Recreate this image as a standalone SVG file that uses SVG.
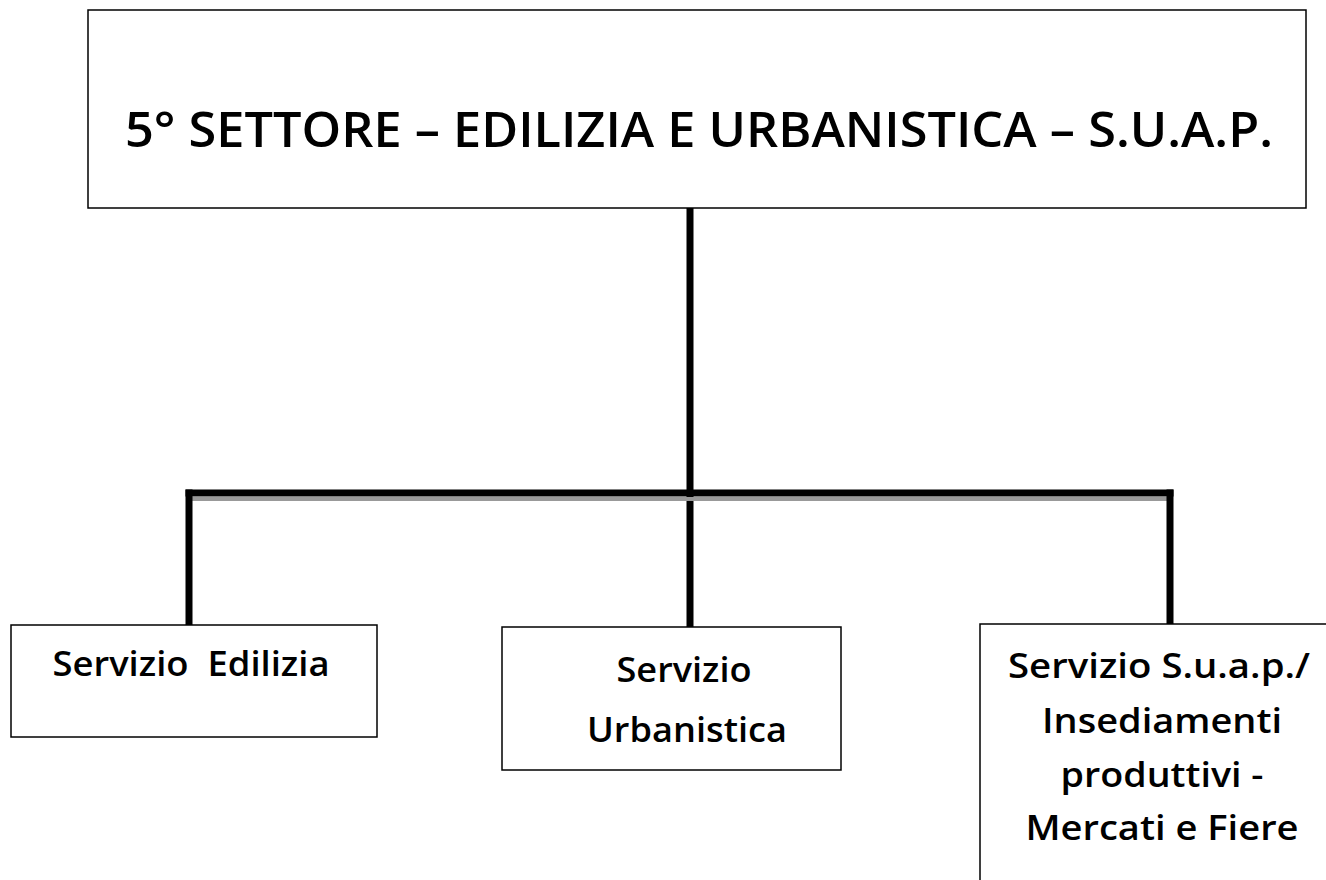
<svg xmlns="http://www.w3.org/2000/svg" width="1326" height="880" viewBox="0 0 1326 880">
<style>
.box{fill:#fff;stroke:#000;stroke-width:1.5}
.lbl{font-family:"Open Sans","Liberation Sans",sans-serif;font-weight:600;fill:#000;text-anchor:middle}
.sub{font-size:35px}
.conn{stroke:#000;stroke-width:7;fill:none;stroke-linecap:square}
</style>
<rect width="1326" height="880" fill="#fff"/>
<g id="connectors">
<line class="conn" x1="690" y1="209" x2="690" y2="624"/>
<line x1="190" y1="499" x2="1170" y2="499" stroke="#999" stroke-width="4"/>
<line class="conn" x1="189" y1="493" x2="1170" y2="493"/>
<line class="conn" x1="189" y1="493" x2="189" y2="622"/>
<line class="conn" x1="1170" y1="493" x2="1170" y2="622"/>
</g>
<g id="root">
<rect class="box" x="88" y="10" width="1218" height="198"/>
<text class="lbl" x="699" y="147" font-size="48" textLength="1148" lengthAdjust="spacingAndGlyphs">5° SETTORE – EDILIZIA E URBANISTICA – S.U.A.P.</text>
</g>
<g id="edilizia">
<rect class="box" x="11" y="625" width="366" height="112"/>
<text class="lbl sub" x="191" y="676" textLength="277" lengthAdjust="spacingAndGlyphs" xml:space="preserve">Servizio  Edilizia</text>
</g>
<g id="urbanistica">
<rect class="box" x="502" y="627" width="339" height="143"/>
<text class="lbl sub" x="684" y="682" textLength="135" lengthAdjust="spacingAndGlyphs">Servizio</text>
<text class="lbl sub" x="687" y="742" textLength="200" lengthAdjust="spacingAndGlyphs">Urbanistica</text>
</g>
<g id="suap">
<rect class="box" x="980" y="624" width="360" height="270"/>
<text class="lbl sub" x="1159" y="678" textLength="302" lengthAdjust="spacingAndGlyphs">Servizio S.u.a.p./</text>
<text class="lbl sub" x="1162" y="733" textLength="240" lengthAdjust="spacingAndGlyphs">Insediamenti</text>
<text class="lbl sub" x="1162" y="787" textLength="203" lengthAdjust="spacingAndGlyphs">produttivi -</text>
<text class="lbl sub" x="1162" y="840" textLength="273" lengthAdjust="spacingAndGlyphs">Mercati e Fiere</text>
</g>
</svg>
